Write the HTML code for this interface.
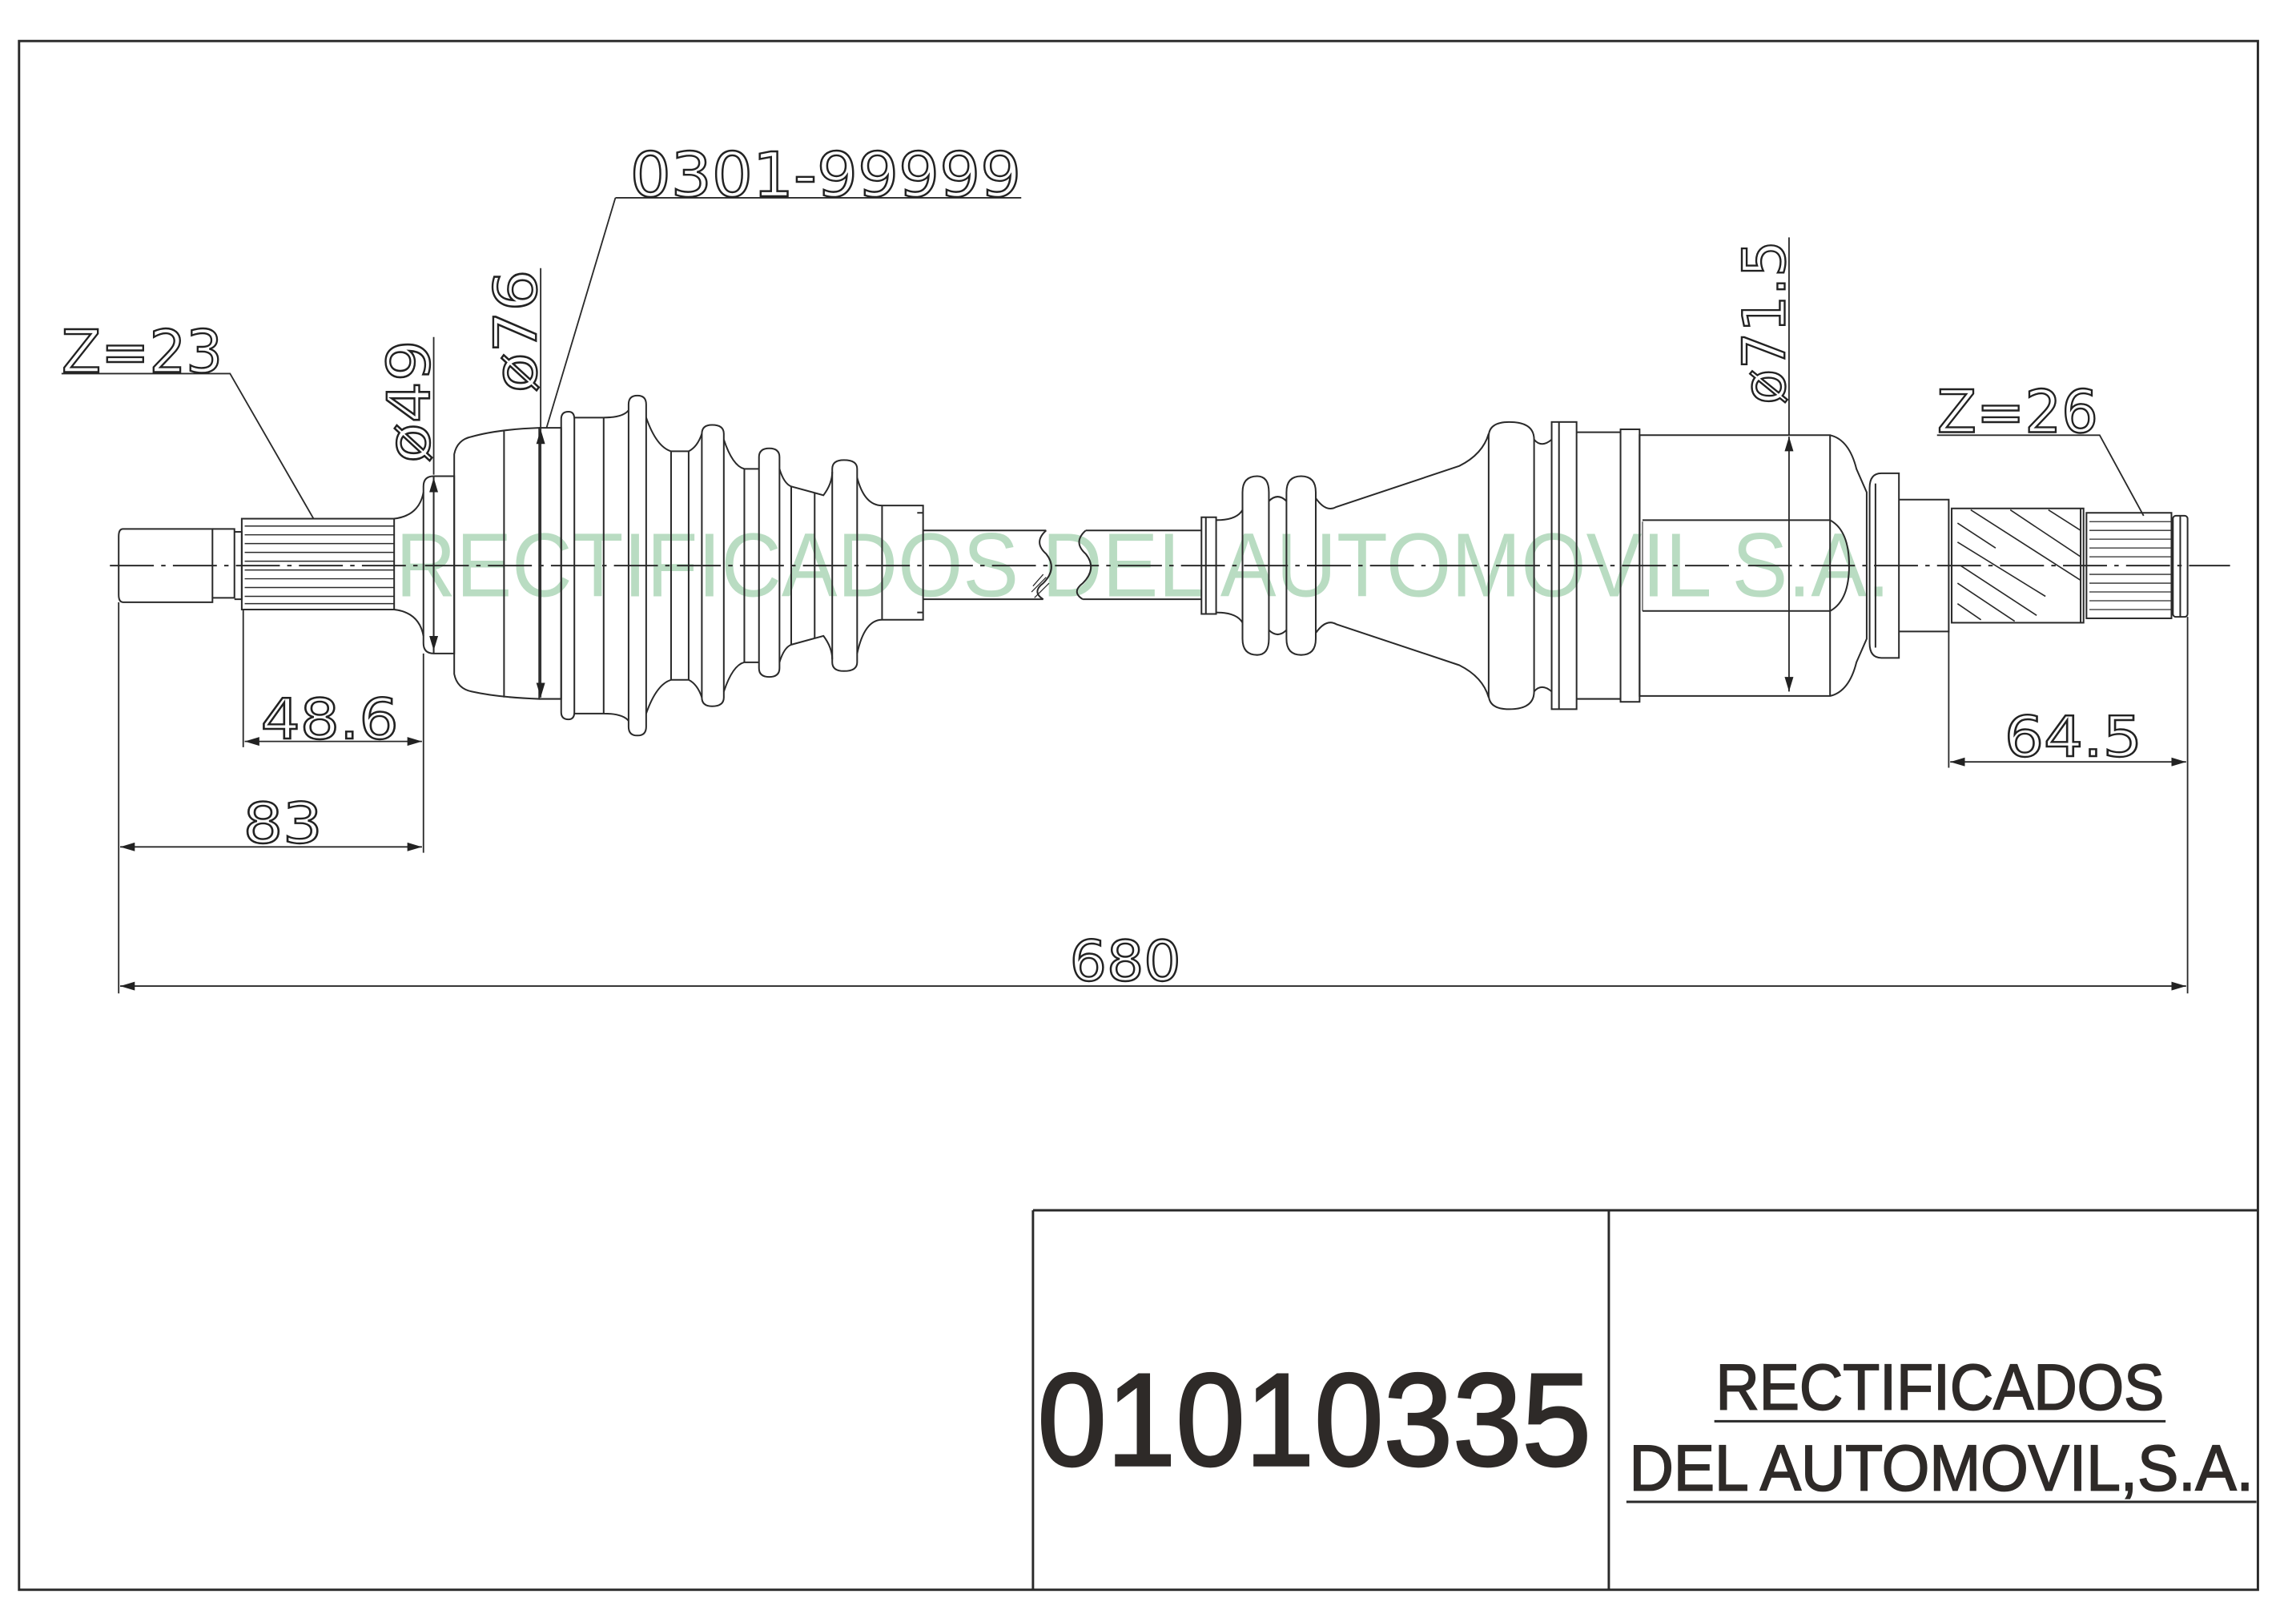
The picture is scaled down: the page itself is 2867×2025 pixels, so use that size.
<!DOCTYPE html>
<html><head><meta charset="utf-8"><style>
html,body{margin:0;padding:0;background:#fff;}
svg{display:block;}
</style></head><body>
<svg width="2867" height="2025" viewBox="0 0 1567 1107" preserveAspectRatio="none" xmlns="http://www.w3.org/2000/svg">
<defs>
<marker id="a" markerWidth="10" markerHeight="6" refX="10" refY="3" orient="auto-start-reverse" markerUnits="userSpaceOnUse"><path d="M0,0 L10,3 L0,6 Z" fill="#222"/></marker>
</defs>
<g fill="none" stroke="#2a2a2a" stroke-width="1.2">
<rect x="13" y="28" width="1528" height="1057" stroke-width="1.6"/>
<path d="M705,826 H1541 M705,826 V1085 M1098,826 V1085" stroke-width="1.6"/>
<path d="M1170,970 H1478 M1110,1025 H1540" stroke-width="1.6"/>
</g>
<g font-family="Liberation Sans, sans-serif" fill="#2e2a28" stroke="#2e2a28">
<text x="708" y="1000" font-size="90" stroke-width="1.6" textLength="378" lengthAdjust="spacingAndGlyphs">01010335</text>
<text x="1171" y="962" font-size="44" stroke-width="1" textLength="306" lengthAdjust="spacingAndGlyphs">RECTIFICADOS</text>
<text x="1112" y="1017" font-size="44" stroke-width="1" textLength="426" lengthAdjust="spacingAndGlyphs">DEL AUTOMOVIL,S.A.</text>
</g>

<text x="270" y="407" font-family="Liberation Sans, sans-serif" font-size="62" fill="#b9dcc2" textLength="1020" lengthAdjust="spacingAndGlyphs">RECTIFICADOS DEL AUTOMOVIL S.A.</text>

<g fill="none" stroke="#2a2a2a" stroke-width="1.1">
<path d="M75,386 H1522" stroke-dasharray="30,5,3,5"/>
<path d="M84,361 H145 V411 H84 Q81,411 81,406 V366 Q81,361 84,361 Z"/>
<path d="M145,361 H160 V408 H145 M160,361 V408"/>
<path d="M160,363 H165 V409 H160"/>
<rect x="165" y="354" width="104" height="62"/>
<path d="M167,359H269M167,365H269M167,371H269M167,377H269M167,383H269M167,389H269M167,395H269M167,401H269M167,407H269M167,412H269" stroke-width="0.8"/>
<path d="M269,354 Q286,352 289,336 M269,416 Q286,418 289,434"/>
<path d="M289,332 Q289,325 296,325 H310 V446 H296 Q289,446 289,439 Z M296,325 V446"/>
<path d="M310,310 Q312,300 322,298 Q340,293 368,292 V477 Q340,476 322,472 Q312,470 310,460 Z M344,294 V476"/>
<path d="M368,292 H383 V477 H368"/>
<path d="M383,286 Q383,281 388,281 Q392,281 392,286 V486 Q392,491 388,491 Q383,491 383,486 Z"/>
<path d="M392,285 H412 V487 H392 M412,285 Q425,285 429,280 M412,487 Q425,487 429,492"/>
<path d="M429,276 Q429,270 435,270 Q441,270 441,276 V496 Q441,502 435,502 Q429,502 429,496 Z"/>
<path d="M441,285 Q448,305 458,308 H470 Q476,305 479,296 M441,487 Q448,467 458,464 H470 Q476,467 479,476"/>
<path d="M458,308 V464 M470,308 V464"/>
<path d="M479,296 Q479,290 486,290 Q494,290 494,296 V476 Q494,482 486,482 Q479,482 479,476 Z"/>
<path d="M494,300 Q500,318 508,320 H518 M494,472 Q500,454 508,452 H518 M508,320 V452"/>
<path d="M518,312 Q518,306 525,306 Q532,306 532,312 V456 Q532,462 525,462 Q518,462 518,456 Z"/>
<path d="M532,320 Q535,330 540,332 L562,338 Q568,330 568,322 M532,452 Q535,442 540,440 L562,434 Q568,442 568,450 M540,332 V440 M556,336 V436"/>
<path d="M568,320 Q568,314 576,314 Q585,314 585,320 V452 Q585,458 576,458 Q568,458 568,452 Z"/>
<path d="M585,326 Q590,345 602,345 H630 V423 H602 Q590,423 585,446"/>
<path d="M602,345 V423 M630,350 H626 M630,418 H626"/>
<path d="M630,362 H714 M630,409 H712"/>
<path d="M714,362 Q705,370 714,378 Q722,388 712,398 Q704,404 712,409"/>
<path d="M741,362 Q732,370 741,378 Q749,388 739,398 Q731,404 739,409"/>
<path d="M705,400 L712,392 M704,404 L714,394 M706,408 L716,398" stroke-width="0.7"/>
<path d="M741,362 H820 M739,409 H820"/>
<path d="M820,353 H830 V419 H820 Z M823,353 V419"/>
<path d="M830,355 Q844,355 848,348 V425 Q844,418 830,418" />
<path d="M848,336 Q848,325 858,325 Q866,325 866,336 V436 Q866,447 858,447 Q848,447 848,436 Z"/>
<path d="M866,342 Q872,336 878,342 M866,430 Q872,436 878,430"/>
<path d="M878,336 Q878,325 888,325 Q898,325 898,336 V436 Q898,447 888,447 Q878,447 878,436 Z"/>
<path d="M898,340 Q905,350 912,346 L996,318 Q1012,310 1016,296 M898,432 Q905,422 912,426 L996,454 Q1012,462 1016,476"/>
<path d="M1016,298 Q1016,288 1030,288 Q1047,288 1047,300 V472 Q1047,484 1030,484 Q1016,484 1016,474 Z"/>
<path d="M1047,300 Q1052,306 1059,300 M1047,472 Q1052,466 1059,472"/>
<rect x="1059" y="288" width="17" height="196"/>
<path d="M1064,288 V484"/>
<path d="M1076,295 H1106 M1076,477 H1106"/>
<rect x="1106" y="293" width="13" height="186"/>
<path d="M1119,297 H1249 Q1262,300 1267,320 L1274,336 V436 L1267,452 Q1262,472 1249,475 H1119 Z"/>
<path d="M1249,297 V475"/>
<path d="M1121,355 H1249 Q1262,362 1262,386 Q1262,410 1249,417 H1121"/>
<path d="M1121,356 V417" stroke-width="0.6"/>
<path d="M1276,333 Q1276,323 1284,323 H1296 V449 H1284 Q1276,449 1276,439 Z M1280,330 V442"/>
<path d="M1296,341 H1330 V431 H1296"/>
<rect x="1332" y="347" width="90" height="78"/>
<path d="M1336,357 L1362,374 M1336,370 L1396,407 M1338,386 L1390,420 M1336,398 L1375,424 M1345,348 L1420,396 M1372,348 L1420,380 M1398,348 L1420,362 M1336,412 L1352,423" stroke-width="0.9"/>
<path d="M1420,347 V425"/>
<rect x="1424" y="350" width="58" height="72"/>
<path d="M1426,356H1482M1426,362H1482M1426,368H1482M1426,374H1482M1426,380H1482M1426,392H1482M1426,398H1482M1426,404H1482M1426,410H1482M1426,416H1482" stroke-width="0.7"/>
<rect x="1483" y="352" width="10" height="69" rx="2"/>
<path d="M1488,352 V421"/>
</g>

<g fill="none" stroke="#2a2a2a" stroke-width="1">
<path d="M81,411 V678 M166,416 V510 M289,446 V582 M1330,431 V524 M1493,421 V678"/>
<path d="M82,673 H1492" marker-start="url(#a)" marker-end="url(#a)"/>
<path d="M82,578 H288" marker-start="url(#a)" marker-end="url(#a)"/>
<path d="M167,506 H288" marker-start="url(#a)" marker-end="url(#a)"/>
<path d="M1331,520 H1492" marker-start="url(#a)" marker-end="url(#a)"/>
<path d="M296,230 V324"/>
<path d="M296,326 V444" marker-start="url(#a)" marker-end="url(#a)"/>
<path d="M369,183 V293"/>
<path d="M369,293 V476" marker-start="url(#a)" marker-end="url(#a)"/>
<path d="M1221,162 V297"/>
<path d="M1221,298 V472" marker-start="url(#a)" marker-end="url(#a)"/>
<path d="M42,255 H157 L214,354"/>
<path d="M420,135 H697 M420,135 L373,292"/>
<path d="M1322,297 H1433 L1463,352"/>
</g>
<g font-family="DejaVu Sans, Liberation Sans, sans-serif" fill="none" stroke="#222" stroke-width="1.3" font-weight="normal">
<text x="42" y="254" font-size="40" textLength="110" lengthAdjust="spacingAndGlyphs">Z=23</text>
<text x="430" y="134" font-size="42" textLength="267" lengthAdjust="spacingAndGlyphs">0301-99999</text>
<text x="178" y="504" font-size="38" textLength="94" lengthAdjust="spacingAndGlyphs">48.6</text>
<text x="166" y="575" font-size="38" textLength="54" lengthAdjust="spacingAndGlyphs">83</text>
<text x="730" y="669" font-size="38" textLength="76" lengthAdjust="spacingAndGlyphs">680</text>
<text x="1368" y="516" font-size="38" textLength="94" lengthAdjust="spacingAndGlyphs">64.5</text>
<text x="1322" y="295" font-size="40" textLength="110" lengthAdjust="spacingAndGlyphs">Z=26</text>
<text transform="translate(293,316) rotate(-90)" font-size="40" textLength="84" lengthAdjust="spacingAndGlyphs">ø49</text>
<text transform="translate(366,268) rotate(-90)" font-size="40" textLength="84" lengthAdjust="spacingAndGlyphs">ø76</text>
<text transform="translate(1218,276) rotate(-90)" font-size="40" textLength="112" lengthAdjust="spacingAndGlyphs">ø71.5</text>
</g>
</svg>
</body></html>
